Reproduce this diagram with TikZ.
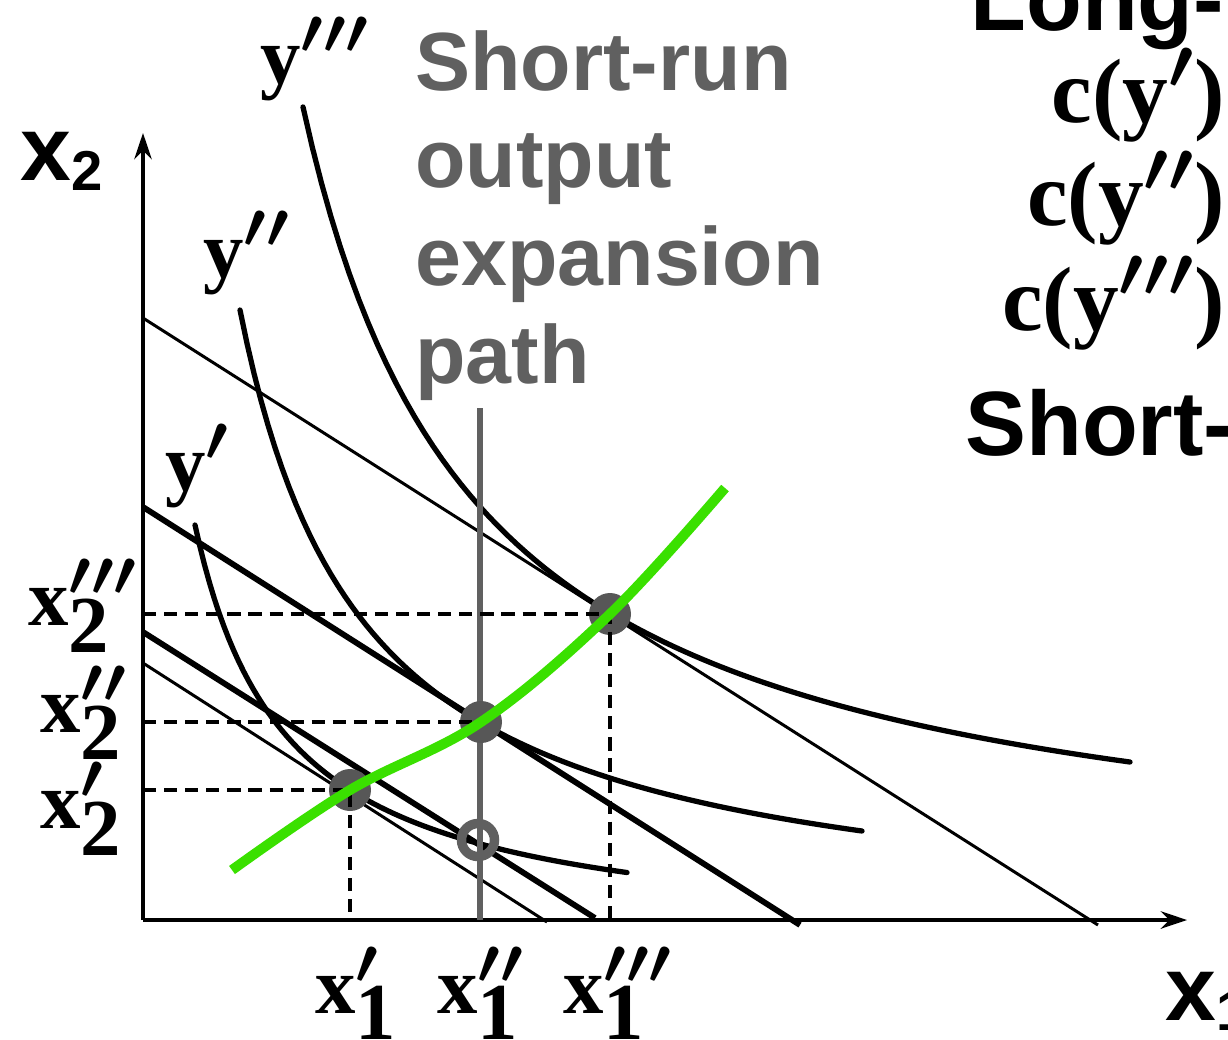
\RequirePackage{fix-cm}
\documentclass[tikz,border=0pt]{standalone}
\usepackage{fontspec}
\setmainfont{Liberation Serif}
\setsansfont{Liberation Sans}
\usepackage{tikz}
\usetikzlibrary{arrows.meta, positioning, calc}
\definecolor{pathgreen}{HTML}{3AE000}
\definecolor{rungray}{HTML}{606060}
\definecolor{dotgray}{HTML}{575757}
\DeclareMathSizes{46}{46}{37}{28}
\DeclareMathSizes{52}{52}{41}{32}
\newcommand{\bl}[1]{\mbox{\bfseries #1}}

\begin{document}
\begin{tikzpicture}[x=0.02cm, y=-0.02cm,
    axis/.style = {-{Stealth[length=15pt, width=10pt, inset=5pt]}, line width=2pt},
    thickcost/.style = {line width=3.3pt},
    thincost/.style = {line width=1.7pt},
    isoquant/.style = {line width=3pt, line cap=round},
    guide/.style = {dash pattern=on 7.5pt off 4.5pt, line width=1.9pt},
    srpath/.style = {draw=rungray, line width=3.4pt},
    expath/.style = {draw=pathgreen, line width=5.7pt},
    optdot/.style = {circle, fill=dotgray, minimum size=0.84cm, inner sep=0pt},
    opendot/.style = {circle, draw=rungray, line width=5.4pt, minimum size=0.66cm, inner sep=0pt},
    lab/.style = {font=\fontsize{46}{52}\selectfont\bfseries\boldmath, inner sep=0pt},
    clab/.style = {font=\fontsize{52}{58}\selectfont\bfseries\boldmath, inner sep=0pt},
    slab/.style = {font=\sffamily\bfseries\fontsize{52}{60}\selectfont, inner sep=0pt}
]
\useasboundingbox (0,0) rectangle (1228,1039);

% Axes
\coordinate (O) at (143,920);
\draw [axis] (O) -- (143,133);
\draw [axis] (O) -- (1187,920);
\node (xtwo) [slab, anchor=base west] at (20,180) {x\raisebox{-0.12em}{\fontsize{32}{32}\selectfont 2}};
\node (xone) [slab, anchor=base west] at (1165,1020) {x\raisebox{-0.12em}{\fontsize{32}{32}\selectfont 1}};

% Iso-cost lines
\draw [thincost] (143,318) -- (1098,925);
\draw [thickcost] (143,507) -- (800,925);
\draw [thickcost] (143,632) -- (595,918);
\draw [thincost] (143,663) -- (547,922);

% Isoquants
\draw [isoquant] plot[domain=303:1130, samples=90] (\x, {899.83-1379.6/((\x-129)/100)});
\draw [isoquant] plot[domain=240:862, samples=90] (\x, {934.86-774.81/((\x-116)/100)});
\draw [isoquant] plot[domain=195:627, samples=90] (\x, {945.8-383.38/((\x-103.9)/100)});
\node (y3) [lab, anchor=base west] at (260,83) {$\bl{y}'''$};
\node (y2) [lab, anchor=base west] at (203,277) {$\bl{y}''$};
\node (y1) [lab, anchor=base west] at (165,490) {$\bl{y}'$};

% Short-run path
\draw [srpath] (480,408) -- (480,920);
\node (srtext) [slab, text=rungray, font=\sffamily\bfseries\fontsize{47}{55.6}\selectfont, align=left, anchor=north west] at (415,30) {Short-run\\output\\expansion\\path};

% Optimal points
\node (opt1) [optdot] at (350,790) {};
\node (opt2) [optdot] at (481,722) {};
\node (opt3) [optdot] at (610,614) {};
\node (srpt) [opendot] at (478,840) {};
\draw [guide] (O |- opt1) -- (opt1.center) -- (opt1 |- O);
\draw [guide] (O |- opt2) -- (opt2.center);
\draw [guide] (O |- opt3) -- (opt3.center) -- (opt3 |- O);

% Long-run expansion path
\draw [expath] plot[smooth, tension=0.6] coordinates {(232,870) (350,790) (481,722) (610,614) (725,488)};

% Input labels
\node (x11) [lab, anchor=base west] at (315,1013) {$\bl{x}'_{\bl{1}}$};
\node (x12) [lab, anchor=base west] at (437,1013) {$\bl{x}''_{\bl{1}}$};
\node (x13) [lab, anchor=base west] at (563,1013) {$\bl{x}'''_{\bl{1}}$};
\node (x23) [lab, anchor=base west] at (28,625) {$\bl{x}'''_{\bl{2}}$};
\node (x22) [lab, anchor=base west] at (40,732) {$\bl{x}''_{\bl{2}}$};
\node (x21) [lab, anchor=base west] at (40,828) {$\bl{x}'_{\bl{2}}$};

% Cost labels
\node (long) [slab, anchor=base west] at (970,30) {Long-run};
\node (c1) [clab, anchor=base east] at (1225,122) {c($\bl{y}'$)};
\node (c2) [clab, anchor=base east] at (1225,225) {c($\bl{y}''$)};
\node (c3) [clab, anchor=base east] at (1225,330) {c($\bl{y}'''$)};
\node (short) [slab, anchor=base west] at (965,455) {Short-run};

\end{tikzpicture}
\end{document}
